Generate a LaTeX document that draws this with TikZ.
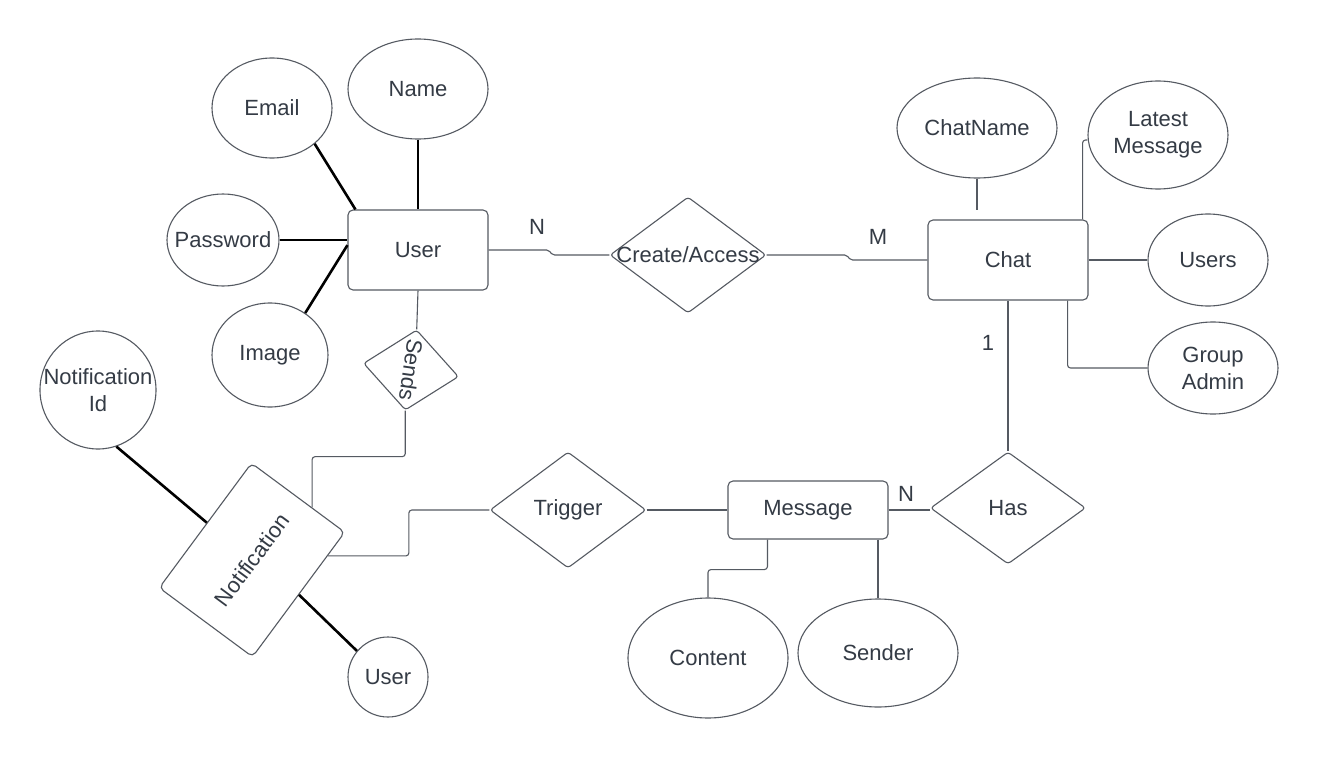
\documentclass[tikz,border=0pt]{standalone}
\usepackage{fontspec}
\setmainfont{Liberation Sans}
\usetikzlibrary{shapes.geometric,calc}
\definecolor{ln}{HTML}{555A62}
\definecolor{tx}{HTML}{343B45}
\begin{document}
\begin{tikzpicture}[x=1pt,y=-1pt,font=\fontsize{22}{27}\selectfont,
  base/.style={draw=ln,line width=1.1pt,inner sep=0pt,text=tx},
  ent/.style={base,rectangle,rounded corners=5pt},
  attr/.style={base,ellipse},
  rel/.style={base,diamond,rounded corners=3pt},
  lbl/.style={align=center,text=tx,inner sep=0pt},
  conn/.style={draw=ln,line width=1.1pt,rounded corners=3pt},
  thickc/.style={draw=black,line width=2.6pt},
  card/.style={text=tx,inner sep=0pt}]
\fill[white] (0,0) rectangle (1318,760);
\useasboundingbox (0,0) rectangle (1318,760);

% entities
\node[ent,minimum width=140pt,minimum height=80pt] (user) at (418,250) {User};
\node[ent,minimum width=160pt,minimum height=80pt] (chat) at (1008,260) {Chat};
\node[ent,minimum width=160pt,minimum height=58pt] (msg) at (808,510) {Message};
\node[ent,rotate=53.5,minimum width=155pt,minimum height=116pt] (notif) at (252,560) {Notification};

% relationships
\node[rel,minimum width=156pt,minimum height=116pt,label={[lbl]center:Create/Access}] (ca) at (688,255) {};
\node[rel,minimum width=156pt,minimum height=116pt,label={[lbl]center:Trigger}] (trig) at (568,510) {};
\node[rel,minimum width=155pt,minimum height=112pt,label={[lbl]center:Has}] (has) at (1008,508) {};
\node[rel,rotate=-98,minimum width=81pt,minimum height=96pt] (sends) at (411,370) {Sends};

% attributes of User
\node[attr,minimum width=140pt,minimum height=100pt,label={[lbl]center:Name}] (name) at (418,89) {};
\node[attr,minimum width=120pt,minimum height=100pt,label={[lbl]center:Email}] (email) at (272,108) {};
\node[attr,minimum width=112pt,minimum height=92pt,label={[lbl]center:Password}] (pwd) at (223,240) {};
\node[attr,minimum width=116pt,minimum height=104pt,label={[lbl]center:Image}] (img) at (270,355) {};

% attributes of Notification
\node[attr,minimum width=116pt,minimum height=118pt,label={[lbl]center:Notification\\Id}] (nid) at (98,390) {};
\node[attr,minimum width=80pt,minimum height=80pt,label={[lbl]center:User}] (usr2) at (388,677) {};

% attributes of Chat
\node[attr,minimum width=160pt,minimum height=100pt,label={[lbl]center:ChatName}] (cname) at (977,128) {};
\node[attr,minimum width=140pt,minimum height=108pt,label={[lbl]center:Latest\\Message}] (latest) at (1158,135) {};
\node[attr,minimum width=120pt,minimum height=92pt,label={[lbl]center:Users}] (users) at (1208,260) {};
\node[attr,minimum width=130pt,minimum height=92pt,label={[lbl]center:Group\\Admin}] (gadmin) at (1213,368) {};

% attributes of Message
\node[attr,minimum width=160pt,minimum height=120pt,label={[lbl]center:Content}] (content) at (708,658) {};
\node[attr,minimum width=160pt,minimum height=108pt,label={[lbl]center:Sender}] (sender) at (878,653) {};

% cardinalities
\node[card] (cardN1) at (537,227) {N};
\node[card] (cardM) at (878,237) {M};
\node[card] (card1) at (988,343) {1};
\node[card] (cardN2) at (906,494) {N};

% thick attribute lines
\draw[thickc] (name.south) -- (name.south |- user.north);
\draw[thickc] (email.-40) -- ($(user.north west)+(8,0)$);
\draw[thickc] (pwd.east) -- (pwd.east -| user.west);
\draw[thickc] (img.50) -- ($(user.north west)!0.44!(user.south west)$);
\draw[thickc] (nid.-72) -- ($(notif.north west)!0.52!(notif.north east)$);
\draw[thickc] ($(notif.south east)!0.5!(notif.south west)$) -- (usr2.140);

% relationship connectors
\draw[conn,rounded corners=2pt] (user.east) -- ++(60,0) -- ++(4,5) -- (ca.west);
\draw[conn,rounded corners=2pt] (ca.east) -- ++(80,0) -- ++(4,5) -- (chat.west);
\draw[conn] (user.south) -- (sends.west);
\coordinate (nE) at ($(notif.north east)!0.645!(notif.south east)$);
\draw[conn] (sends.east) -- ++(0,46) -| (nE);
\draw[conn] ($(notif.south east)!0.19!(notif.south west)$) -- ++(81,0) |- (trig.west);
\draw[conn] (trig.east) -- (msg.west);
\draw[conn] (msg.east) -- (msg.east -| has.west);
\draw[conn] (chat.south) -- (has.north);

% chat attribute connectors
\coordinate (cnEnd) at (977,210);
\draw[conn] (cname.south) -- (cnEnd);
\draw[conn] ($(chat.north east)+(-6,0)$) |- ($(latest.west)+(0,5)$);
\draw[conn] (chat.east) -- (users.west);
\draw[conn] ($(chat.south east)+(-21,0)$) |- (gadmin.west);

% message attribute connectors
\draw[conn] ($(msg.south west)+(40,0)$) -- ++(0,30) -| (content.north);
\draw[conn] (msg.south -| sender.north) -- (sender.north);
\end{tikzpicture}
\end{document}
